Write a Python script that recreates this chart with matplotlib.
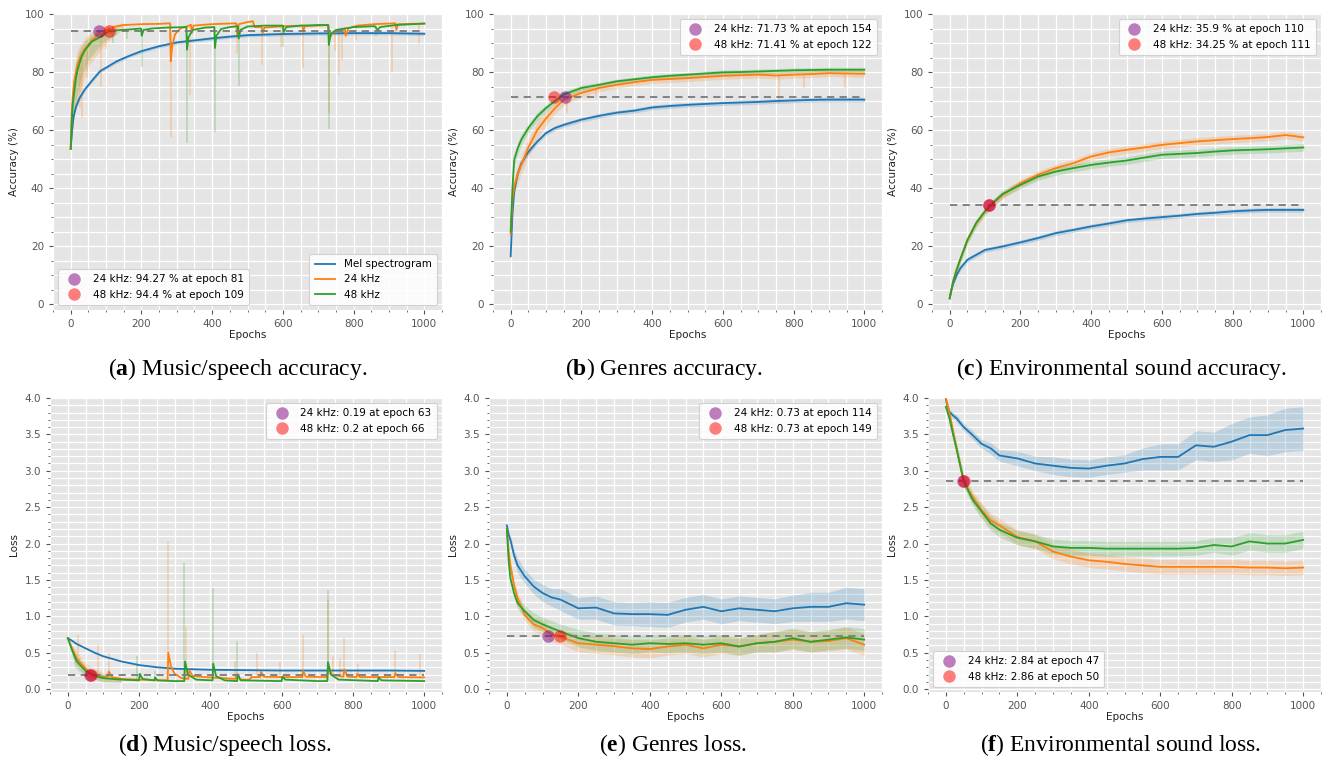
import numpy as np
import matplotlib
matplotlib.use("Agg")
import matplotlib.pyplot as plt
from matplotlib.ticker import MultipleLocator

# ---------------- data ----------------
# Panel (a) music/speech accuracy: (epoch, value)
a_mel = [(0, 53.5), (4, 60), (8, 64.5), (15, 68), (25, 71), (40, 74), (60, 77), (83, 80.3),
         (100, 81.5), (130, 83.7), (160, 85.3), (200, 87.2), (250, 88.9), (300, 90.2),
         (350, 90.9), (400, 91.6), (450, 92.2), (500, 92.7), (600, 93.1), (700, 93.3),
         (800, 93.4), (900, 93.4), (1000, 93.2)]
a_24 = [(0, 53.5), (3, 66), (6, 72), (10, 77), (15, 80), (20, 83), (30, 86), (40, 88), (50, 89.5),
        (60, 91), (70, 92), (81, 94), (88, 92), (92, 93.5), (100, 94.5), (110, 95), (113, 93.5),
        (120, 95.5), (150, 96.2), (200, 96.5), (250, 96.6), (281, 96.8), (283, 83.7), (287, 89),
        (295, 93), (310, 95), (330, 95.8), (340, 96.3), (343, 93.5), (347, 96), (400, 96.5),
        (468, 96.8), (471, 93), (475, 96.5), (500, 97.2), (515, 97.5), (520, 95.5), (540, 95.5),
        (543, 93.5), (548, 95.3), (600, 95.8), (655, 96), (658, 94), (662, 95.8), (700, 96),
        (728, 96.2), (732, 91.5), (740, 93.5), (760, 94.5), (775, 95), (778, 92.5), (785, 95),
        (810, 96), (860, 96.5), (918, 96.8), (921, 94.5), (925, 96.5), (1000, 96.7)]
a_48 = [(0, 53.5), (3, 63), (6, 69), (10, 73), (15, 78), (20, 81), (30, 85), (40, 87.5),
        (50, 89), (60, 90.5), (75, 91.5), (90, 92.5), (109, 94.2), (130, 94.4), (160, 94.6),
        (199, 95), (201, 92.5), (206, 94.5), (230, 95), (270, 95.3), (300, 95.4), (327, 95.5),
        (329, 87.7), (333, 92), (345, 94.5), (380, 95.3), (406, 95.5), (408, 88.3), (412, 92.5),
        (425, 94.8), (450, 95.5), (473, 95.8), (475, 91.5), (480, 94.5), (500, 95.7), (550, 96),
        (600, 96), (602, 93.8), (610, 95.5), (650, 96), (700, 96.2), (728, 96.2), (730, 89.3),
        (735, 93), (750, 94.5), (800, 95.5), (860, 95.8), (868, 94.5), (875, 95.5), (920, 96.2),
        (1000, 96.7)]
# faint raw spikes: (epoch, base, tip)
a_24_spikes = [(25, 82, 68), (32, 86, 64), (45, 88, 78), (85, 92, 75), (100, 94, 88),
               (283, 96.5, 57.5), (337, 96, 72), (470, 96.5, 86.5), (540, 95.5, 82.5),
               (594, 96, 88.8), (656, 96, 81.4), (731, 96, 66), (748, 95, 87.4),
               (760, 95, 79), (768, 95, 84), (806, 96, 91.2), (910, 96.5, 80), (984, 96.5, 89.5)]
a_48_spikes = [(120, 94.5, 90), (160, 94.6, 91.5), (201, 95, 81.9), (329, 95.5, 55.5),
               (408, 95.5, 59.5), (475, 95.8, 75.3), (600, 96, 88.5), (730, 96.2, 60.5),
               (862, 95.8, 92.5)]
# early raw band: (epoch, low, high)
a_24_band = [(0, 53.5, 53.5), (10, 66, 82), (20, 70, 88), (30, 75, 90), (50, 82, 93),
             (75, 86, 95), (100, 90, 96), (130, 93, 96.5), (150, 95, 97)]
a_48_band = [(0, 53.5, 53.5), (10, 65, 80), (20, 73, 86), (30, 78, 89), (50, 84, 92),
             (75, 88, 94), (100, 91, 95), (130, 93, 95.5)]
a_thr = 94.3
a_marks = [81, 109]
a_labels = ["24 kHz: 94.27 % at epoch 81", "48 kHz: 94.4 % at epoch 109"]

# Common epoch grid for panels b, c, e, f
epochs = [0, 5, 10, 20, 30, 50, 75, 100, 125, 150, 200, 250, 300, 350, 400, 450, 500,
          550, 600, 650, 700, 750, 800, 850, 900, 950, 1000]

# Panel (b) genres accuracy
b_mel = [16.5, 31, 39, 45, 48.5, 52.5, 56, 59, 60.7, 61.8, 63.6, 64.9, 66, 66.7, 67.8, 68.3,
         68.7, 69, 69.3, 69.5, 69.7, 70, 70.2, 70.4, 70.5, 70.5, 70.5]
b_24 = [24, 36, 40.6, 45, 48, 54, 60, 64, 67.5, 70.5, 72.8, 74.5, 75.6, 76.5, 77.3, 77.6,
        77.9, 78.3, 78.7, 78.9, 79.1, 78.8, 79.1, 79.3, 79.6, 79.5, 79.4]
b_48 = [25, 40, 49.8, 53.8, 56.7, 60.7, 64.7, 67.6, 70, 72.3, 74.5, 75.6, 76.8, 77.5, 78.2,
        78.7, 79.1, 79.5, 79.9, 80, 80.2, 80.4, 80.6, 80.7, 80.8, 80.8, 80.8]
b_mel_sp = [0, 1.5, 1.5, 1.2, 1, 1, 0.8, 0.8, 0.8, 0.8, 0.8, 0.8, 0.8, 0.8, 0.8, 0.8, 0.8,
            0.8, 0.8, 0.8, 0.8, 0.8, 0.8, 0.8, 0.8, 0.8, 0.8]
b_24_sp = [0, 3, 3, 3, 3, 3, 3, 2.5, 2, 2, 1.5, 1.2, 1.2, 1.2, 1.2, 1.2, 1.2, 1.2, 1.2, 1.2,
           1.2, 1.2, 1.2, 1.2, 1.2, 1.2, 1.2]
b_48_sp = [0, 2, 2, 2, 2, 1.5, 1.5, 1.2, 1, 1, 1, 0.8, 0.8, 0.8, 0.8, 0.8, 0.8, 0.8, 0.8,
           0.8, 0.8, 0.8, 0.8, 0.8, 0.8, 0.8, 0.8]
b_24_spikes = [(160, 70.5, 66), (240, 74, 71), (759, 78.8, 69.5), (830, 79.1, 74.5),
               (945, 79.5, 74.5)]
b_thr = 71.5
b_marks = [154, 122]
b_labels = ["24 kHz: 71.73 % at epoch 154", "48 kHz: 71.41 % at epoch 122"]

# Panel (c) environmental sound accuracy
c_mel = [2, 5, 7.2, 10.1, 12.4, 15.3, 17, 18.7, 19.3, 19.9, 21.3, 22.8, 24.5, 25.6, 26.8,
         27.8, 28.9, 29.5, 30, 30.5, 31.1, 31.5, 32, 32.3, 32.5, 32.5, 32.5]
c_24 = [2.5, 5, 8, 12, 15.5, 22.2, 27.9, 32, 35, 37.7, 41.7, 44.6, 46.9, 48.6, 50.9, 52.3,
        53.2, 54, 54.9, 55.5, 56.1, 56.5, 56.9, 57.2, 57.6, 58.3, 57.5]
c_48 = [2, 5, 8, 12, 15.5, 22, 28, 32, 35.2, 38, 41.1, 44, 45.7, 46.9, 48, 48.8, 49.5, 50.5,
        51.5, 51.8, 52.1, 52.6, 53, 53.2, 53.4, 53.7, 54]
c_mel_sp = [0.3] * 2 + [0.8] * 25
c_24_sp = [0.5] * 2 + [1.3] * 25
c_48_sp = [0.5] * 2 + [1.3] * 25
c_thr = 34.25
c_marks = [110, 111]
c_labels = ["24 kHz: 35.9 % at epoch 110", "48 kHz: 34.25 % at epoch 111"]

# Panel (d) music/speech loss
d_mel = [(0, 0.70), (10, 0.67), (25, 0.62), (50, 0.56), (75, 0.50), (100, 0.45), (150, 0.38),
         (200, 0.33), (250, 0.30), (300, 0.28), (400, 0.265), (500, 0.26), (600, 0.255),
         (700, 0.255), (800, 0.255), (900, 0.255), (1000, 0.25)]
d_24 = [(0, 0.70), (10, 0.58), (25, 0.42), (50, 0.28), (63, 0.21), (75, 0.20), (100, 0.17),
        (112, 0.17), (115, 0.24), (125, 0.16), (150, 0.14), (200, 0.13), (250, 0.12),
        (280, 0.12), (282, 0.50), (290, 0.30), (300, 0.21), (320, 0.15), (338, 0.14),
        (341, 0.26), (350, 0.18), (400, 0.16), (470, 0.14), (474, 0.20), (485, 0.13),
        (510, 0.13), (515, 0.165), (540, 0.165), (542, 0.24), (550, 0.17), (600, 0.165),
        (658, 0.165), (660, 0.25), (668, 0.17), (728, 0.165), (731, 0.33), (740, 0.2),
        (773, 0.17), (776, 0.27), (785, 0.17), (810, 0.165), (812, 0.21), (820, 0.165),
        (916, 0.165), (919, 0.22), (928, 0.165), (1000, 0.16)]
d_48 = [(0, 0.70), (10, 0.56), (25, 0.38), (50, 0.25), (66, 0.20), (75, 0.18), (100, 0.15),
        (150, 0.13), (200, 0.12), (202, 0.21), (210, 0.14), (243, 0.12), (245, 0.16),
        (252, 0.12), (300, 0.11), (327, 0.11), (329, 0.38), (337, 0.20), (360, 0.13),
        (406, 0.12), (408, 0.35), (416, 0.18), (440, 0.12), (475, 0.11), (477, 0.20),
        (485, 0.12), (600, 0.11), (602, 0.17), (610, 0.13), (700, 0.11), (728, 0.11),
        (730, 0.37), (738, 0.20), (760, 0.13), (870, 0.11), (872, 0.16), (880, 0.12),
        (1000, 0.11)]
d_24_spikes = [(28, 0.45, 0.75), (84, 0.18, 0.61), (115, 0.17, 0.5), (282, 0.2, 2.04),
               (333, 0.15, 0.85), (469, 0.14, 0.39), (530, 0.16, 0.49), (595, 0.16, 0.37),
               (659, 0.16, 0.74), (731, 0.2, 1.23), (745, 0.17, 0.46), (763, 0.17, 0.42),
               (774, 0.17, 0.70), (815, 0.16, 0.34), (918, 0.16, 0.53), (988, 0.16, 0.48)]
d_48_spikes = [(195, 0.12, 0.45), (245, 0.12, 0.25), (326, 0.12, 1.73), (406, 0.12, 1.39),
               (475, 0.11, 0.66), (731, 0.12, 1.36)]
d_24_band = [(0, 0.70, 0.70), (20, 0.35, 0.55), (50, 0.18, 0.35), (100, 0.10, 0.22),
             (150, 0.10, 0.17)]
d_48_band = [(0, 0.70, 0.70), (20, 0.30, 0.50), (50, 0.17, 0.30), (100, 0.10, 0.20),
             (150, 0.09, 0.16)]
d_thr = 0.2
d_marks = [63, 66]
d_labels = ["24 kHz: 0.19 at epoch 63", "48 kHz: 0.2 at epoch 66"]

# Panel (e) genres loss
e_mel = [2.25, 2.12, 2.05, 1.84, 1.7, 1.55, 1.41, 1.32, 1.26, 1.23, 1.11, 1.12, 1.04, 1.03,
         1.03, 1.02, 1.09, 1.13, 1.07, 1.11, 1.09, 1.07, 1.11, 1.13, 1.13, 1.18, 1.16]
e_24 = [2.2, 1.9, 1.7, 1.43, 1.25, 1.02, 0.89, 0.84, 0.75, 0.72, 0.63, 0.61, 0.59, 0.56, 0.55,
        0.585, 0.61, 0.56, 0.61, 0.585, 0.63, 0.65, 0.68, 0.65, 0.66, 0.7, 0.61]
e_48 = [2.2, 1.75, 1.52, 1.32, 1.18, 1.07, 0.95, 0.89, 0.84, 0.79, 0.7, 0.65, 0.63, 0.61,
        0.63, 0.62, 0.63, 0.61, 0.63, 0.585, 0.63, 0.65, 0.7, 0.65, 0.68, 0.71, 0.68]
e_mel_sp = [0, 0.05, 0.05, 0.08, 0.1, 0.1, 0.1, 0.12, 0.12, 0.15, 0.15, 0.16, 0.16, 0.16,
            0.17, 0.17, 0.17, 0.17, 0.17, 0.17, 0.17, 0.17, 0.18, 0.2, 0.2, 0.22, 0.22]
e_24_sp = [0, 0.05, 0.05, 0.06, 0.08, 0.08, 0.1, 0.1, 0.1, 0.1, 0.12, 0.12, 0.12, 0.12,
           0.12, 0.12, 0.12, 0.12, 0.12, 0.12, 0.12, 0.14, 0.14, 0.14, 0.14, 0.15, 0.15]
e_48_sp = [0, 0.05, 0.05, 0.06, 0.08, 0.08, 0.1, 0.1, 0.1, 0.1, 0.12, 0.12, 0.12, 0.12,
           0.12, 0.12, 0.12, 0.12, 0.12, 0.12, 0.12, 0.14, 0.14, 0.14, 0.14, 0.15, 0.15]
e_thr = 0.73
e_marks = [114, 149]
e_labels = ["24 kHz: 0.73 at epoch 114", "48 kHz: 0.73 at epoch 149"]

# Panel (f) environmental sound loss
f_mel = [3.98, 3.88, 3.81, 3.76, 3.72, 3.6, 3.49, 3.37, 3.31, 3.21, 3.17, 3.1, 3.07, 3.04,
         3.03, 3.07, 3.1, 3.16, 3.19, 3.19, 3.35, 3.33, 3.4, 3.49, 3.49, 3.56, 3.58]
f_24 = [4.0, 3.9, 3.8, 3.55, 3.3, 2.85, 2.64, 2.46, 2.32, 2.25, 2.09, 2.03, 1.89, 1.82, 1.77,
        1.75, 1.72, 1.7, 1.68, 1.68, 1.68, 1.68, 1.68, 1.67, 1.67, 1.66, 1.67]
f_48 = [3.88, 3.8, 3.72, 3.5, 3.3, 2.86, 2.6, 2.44, 2.28, 2.19, 2.08, 2.03, 1.96, 1.94, 1.94,
        1.93, 1.93, 1.93, 1.93, 1.93, 1.94, 1.98, 1.96, 2.03, 2.0, 2.0, 2.05]
f_mel_sp = [0, 0.03, 0.03, 0.04, 0.05, 0.05, 0.06, 0.06, 0.08, 0.08, 0.1, 0.1, 0.12, 0.12,
            0.12, 0.12, 0.12, 0.15, 0.18, 0.18, 0.2, 0.2, 0.25, 0.25, 0.28, 0.3, 0.3]
f_24_sp = [0, 0.05, 0.05, 0.06, 0.08, 0.08, 0.08, 0.1, 0.1, 0.1, 0.1, 0.1, 0.1, 0.1, 0.1,
           0.1, 0.1, 0.1, 0.1, 0.1, 0.1, 0.1, 0.1, 0.1, 0.1, 0.1, 0.1]
f_48_sp = [0, 0.05, 0.05, 0.06, 0.08, 0.08, 0.08, 0.1, 0.1, 0.1, 0.1, 0.1, 0.1, 0.1, 0.1,
           0.1, 0.1, 0.1, 0.1, 0.1, 0.1, 0.1, 0.12, 0.12, 0.12, 0.12, 0.12]
f_thr = 2.86
f_marks = [47, 50]
f_labels = ["24 kHz: 2.84 at epoch 47", "48 kHz: 2.86 at epoch 50"]

series_names = ["Mel spectrogram", "24 kHz", "48 kHz"]
captions = [("a", "Music/speech accuracy."), ("b", "Genres accuracy."),
            ("c", "Environmental sound accuracy."), ("d", "Music/speech loss."),
            ("e", "Genres loss."), ("f", "Environmental sound loss.")]

# ---------------- styling ----------------
C_MEL, C_24, C_48 = "#1f77b4", "#ff7f0e", "#2ca02c"
plt.rcParams["mathtext.fontset"] = "custom"
plt.rcParams["mathtext.rm"] = "Liberation Serif"
plt.rcParams["mathtext.bf"] = "Liberation Serif:bold"

W, H = 1326, 769
fig = plt.figure(figsize=(W / 100, H / 100), dpi=100)

boxes = {"a": (53, 14, 442, 310), "b": (493, 14, 882, 310), "c": (932, 14, 1321, 310),
         "d": (50, 398, 442, 692), "e": (489, 398, 882, 692), "f": (928, 398, 1321, 692)}


def make_ax(key, acc):
    l, t, r, b = boxes[key]
    ax = fig.add_axes([l / W, 1 - b / H, (r - l) / W, (b - t) / H])
    ax.set_facecolor("#E5E5E5")
    for s in ax.spines.values():
        s.set_visible(False)
    ax.set_xlim(-50, 1050)
    ax.xaxis.set_major_locator(MultipleLocator(200))
    ax.xaxis.set_minor_locator(MultipleLocator(50))
    if acc:
        ax.set_ylim(-2, 100)
        ax.yaxis.set_major_locator(MultipleLocator(20))
        ax.yaxis.set_minor_locator(MultipleLocator(5))
        ax.set_ylabel("Accuracy (%)", fontsize=7.5, color="#222222", labelpad=4)
    else:
        ax.set_ylim(-0.04, 4.0)
        ax.yaxis.set_major_locator(MultipleLocator(0.5))
        ax.yaxis.set_minor_locator(MultipleLocator(0.1))
        ax.set_ylabel("Loss", fontsize=7.5, color="#222222", labelpad=4)
    ax.set_xlabel("Epochs", fontsize=7.5, color="#222222", labelpad=0.5)
    ax.grid(which="major", color="white", lw=0.9)
    ax.grid(which="minor", color="white", lw=0.9)
    ax.set_axisbelow(True)
    ax.tick_params(which="major", labelsize=7.5, labelcolor="#555555", color="#555555",
                   length=3, width=0.8, direction="out")
    ax.tick_params(which="minor", color="#555555", length=1.5, width=0.6, direction="out")
    return ax


def unzip(pairs):
    return [p[0] for p in pairs], [p[1] for p in pairs]


def spikes(ax, sp, color):
    ax.vlines([s[0] for s in sp], [s[1] for s in sp], [s[2] for s in sp],
              color=color, alpha=0.22, lw=1.4)


def band(ax, bd, color):
    ax.fill_between([b[0] for b in bd], [b[1] for b in bd], [b[2] for b in bd],
                    color=color, alpha=0.2, lw=0)


def grid_series(ax, y, sp, color):
    yy, ss = np.asarray(y, float), np.asarray(sp, float)
    ax.fill_between(epochs, yy - ss, yy + ss, color=color, alpha=0.2, lw=0)


def finish(ax, thr, marks, labels, loc, lines=None):
    ax.hlines(thr, 0, 1000, colors="#7a7a7a", linestyles=(0, (4, 3)), lw=1.3, zorder=4)
    h1, = ax.plot([marks[0]], [thr], "o", color="purple", alpha=0.5, ms=9, mec="none",
                  zorder=5, label=labels[0])
    h2, = ax.plot([marks[1]], [thr], "o", color="red", alpha=0.5, ms=9, mec="none",
                  zorder=5, label=labels[1])
    leg = ax.legend(handles=[h1, h2], loc=loc, fontsize=7.5, frameon=True, facecolor="white",
                    edgecolor="#cccccc", framealpha=0.85, borderpad=0.5, labelspacing=0.5)
    leg.get_frame().set_linewidth(0.8)
    if lines is not None:
        ax.add_artist(leg)
        leg2 = ax.legend(handles=lines, loc="lower right", fontsize=7.5, frameon=True,
                         facecolor="white", edgecolor="#cccccc", framealpha=0.85,
                         borderpad=0.5, labelspacing=0.5)
        leg2.get_frame().set_linewidth(0.8)


LW = 1.3

# (a)
ax = make_ax("a", True)
band(ax, a_24_band, C_24)
band(ax, a_48_band, C_48)
spikes(ax, a_24_spikes, C_24)
spikes(ax, a_48_spikes, C_48)
x, y = unzip(a_mel)
ax.fill_between(x, np.array(y) - 0.6, np.array(y) + 0.6, color=C_MEL, alpha=0.2, lw=0)
l1, = ax.plot(x, y, color=C_MEL, lw=LW, label=series_names[0])
x, y = unzip(a_24)
l2, = ax.plot(x, y, color=C_24, lw=LW, label=series_names[1])
x, y = unzip(a_48)
l3, = ax.plot(x, y, color=C_48, lw=LW, label=series_names[2])
finish(ax, a_thr, a_marks, a_labels, "lower left", lines=[l1, l2, l3])

# (b)
ax = make_ax("b", True)
for y, sp, c in [(b_mel, b_mel_sp, C_MEL), (b_24, b_24_sp, C_24), (b_48, b_48_sp, C_48)]:
    grid_series(ax, y, sp, c)
spikes(ax, b_24_spikes, C_24)
for y, c in [(b_mel, C_MEL), (b_24, C_24), (b_48, C_48)]:
    ax.plot(epochs, y, color=c, lw=LW)
finish(ax, b_thr, b_marks, b_labels, "upper right")

# (c)
ax = make_ax("c", True)
for y, sp, c in [(c_mel, c_mel_sp, C_MEL), (c_24, c_24_sp, C_24), (c_48, c_48_sp, C_48)]:
    grid_series(ax, y, sp, c)
for y, c in [(c_mel, C_MEL), (c_24, C_24), (c_48, C_48)]:
    ax.plot(epochs, y, color=c, lw=LW)
finish(ax, c_thr, c_marks, c_labels, "upper right")

# (d)
ax = make_ax("d", False)
band(ax, d_24_band, C_24)
band(ax, d_48_band, C_48)
spikes(ax, d_24_spikes, C_24)
spikes(ax, d_48_spikes, C_48)
for pts, c in [(d_mel, C_MEL), (d_24, C_24), (d_48, C_48)]:
    x, y = unzip(pts)
    ax.plot(x, y, color=c, lw=LW)
finish(ax, d_thr, d_marks, d_labels, "upper right")

# (e)
ax = make_ax("e", False)
for y, sp, c in [(e_mel, e_mel_sp, C_MEL), (e_24, e_24_sp, C_24), (e_48, e_48_sp, C_48)]:
    grid_series(ax, y, sp, c)
for y, c in [(e_mel, C_MEL), (e_24, C_24), (e_48, C_48)]:
    ax.plot(epochs, y, color=c, lw=LW)
finish(ax, e_thr, e_marks, e_labels, "upper right")

# (f)
ax = make_ax("f", False)
for y, sp, c in [(f_mel, f_mel_sp, C_MEL), (f_24, f_24_sp, C_24), (f_48, f_48_sp, C_48)]:
    grid_series(ax, y, sp, c)
for y, c in [(f_mel, C_MEL), (f_24, C_24), (f_48, C_48)]:
    ax.plot(epochs, y, color=c, lw=LW)
finish(ax, f_thr, f_marks, f_labels, "lower left")

# captions
cap_pos = [(238, 369), (664, 369), (1121, 369), (225, 745), (673, 745), (1121, 745)]
for (letter, text), (cx, cy) in zip(captions, cap_pos):
    fig.text(cx / W, 1 - cy / H, r"($\mathbf{" + letter + r"}$) " + text,
             fontsize=17, family="Liberation Serif", ha="center", va="center")

fig.savefig("out.png", dpi=100)
